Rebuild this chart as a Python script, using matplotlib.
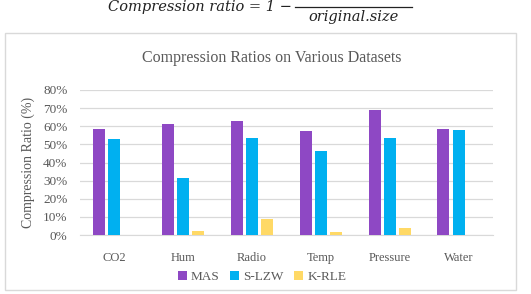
import matplotlib.pyplot as plt
import numpy as np
from matplotlib.patches import Rectangle

# data
datasets = ['CO2', 'Hum', 'Radio', 'Temp', 'Pressure', 'Water']
mas = [58.3, 61.1, 62.9, 57.6, 68.8, 58.7]
s_lzw = [52.8, 31.3, 53.3, 46.2, 53.5, 57.9]
k_rle = [0.0, 2.2, 8.8, 1.8, 3.7, 0.0]
yticks = [0, 10, 20, 30, 40, 50, 60, 70, 80]

plt.rcParams['font.family'] = ['Liberation Serif', 'DejaVu Serif']
grey = '#595959'

fig = plt.figure(figsize=(5.31, 2.94), dpi=100)

# formula above the chart (numerator is cut off in the source)
fig.text(292 / 531, 1 - 11.5 / 294, 'Compression ratio = 1 \u2212', ha='right', va='baseline',
         fontsize=10.5, style='italic', family='DejaVu Serif', color='#222222')
fig.add_artist(plt.Line2D([295 / 531, 412 / 531], [1 - 7 / 294, 1 - 7 / 294],
                          color='#222222', lw=0.9))
fig.text(353 / 531, 1 - 17 / 294, 'original.size', ha='center', va='center',
         fontsize=10.5, style='italic', family='DejaVu Serif', color='#222222')

# chart border
fig.add_artist(Rectangle((5 / 531, 1 - 290 / 294), 511 / 531, 257 / 294,
                         transform=fig.transFigure, fill=False,
                         edgecolor='#d9d9d9', lw=1))

ax = fig.add_axes([80 / 531, 1 - 235 / 294, 413 / 531, 145 / 294])
x = np.arange(len(datasets))
w = 0.174
off = 0.22
ax.bar(x - off, mas, w, color='#8E48C4', label='MAS', zorder=3)
ax.bar(x, s_lzw, w, color='#00B0F0', label='S-LZW', zorder=3)
ax.bar(x + off, k_rle, w, color='#FFD966', label='K-RLE', zorder=3)

ax.set_xlim(-0.5, len(datasets) - 0.5)
ax.set_ylim(0, 80)
ax.set_yticks(yticks)
ax.set_yticklabels([f'{v}%' for v in yticks])
ax.set_xticks(x)
ax.set_xticklabels(datasets)
ax.grid(axis='y', color='#d9d9d9', lw=0.9, zorder=0)
for s in ['top', 'right', 'left']:
    ax.spines[s].set_visible(False)
ax.spines['bottom'].set_color('#d9d9d9')
ax.tick_params(axis='both', length=0, colors=grey)
ax.tick_params(axis='y', labelsize=9.5, pad=9)
ax.tick_params(axis='x', labelsize=9, pad=12)
ax.set_ylabel('Compression Ratio (%)', fontsize=10, color=grey, labelpad=6)

fig.text(271.5 / 531, 1 - 58 / 294, 'Compression Ratios on Various Datasets',
         ha='center', va='center', fontsize=11.5, color=grey)

fig.legend(loc='center', bbox_to_anchor=(262 / 531, 1 - 277 / 294), ncol=3,
           frameon=False, fontsize=9.5, handlelength=0.7, handleheight=0.7,
           handletextpad=0.3, columnspacing=0.8, labelcolor=grey)

fig.savefig('out.png', dpi=100)
